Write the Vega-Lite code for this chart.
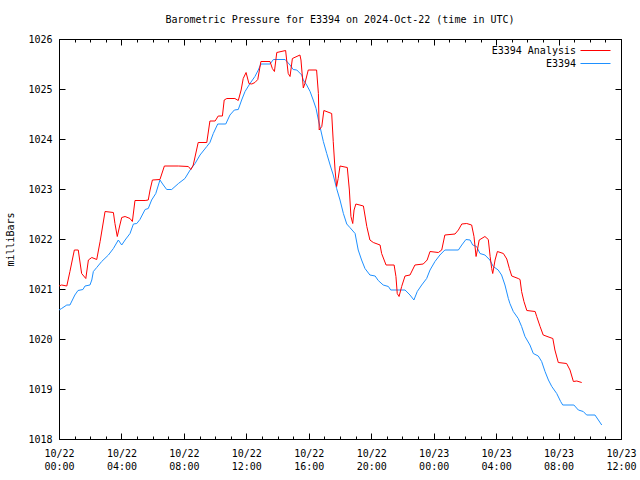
{
  "$schema": "https://vega.github.io/schema/vega-lite/v6.json",
  "width": 562,
  "height": 400,
  "autosize": "none",
  "padding": {"left": 59, "top": 39, "right": 19, "bottom": 41},
  "background": "white",
  "config": {
    "font": "DejaVu Sans Mono",
    "view": {"stroke": "black", "strokeWidth": 1},
    "axis": {"grid": false, "domain": false, "labelFont": "DejaVu Sans Mono", "labelFontSize": 10, "labelColor": "black", "tickColor": "black", "titleFont": "DejaVu Sans Mono", "titleFontSize": 10, "titleFontWeight": "normal", "titleColor": "black"},
    "legend": {"labelFont": "DejaVu Sans Mono", "labelFontSize": 10, "labelColor": "black"},
    "title": {"font": "DejaVu Sans Mono", "fontSize": 10, "fontWeight": "normal", "color": "black"}
  },
  "title": {"text": "Barometric Pressure for E3394 on 2024-Oct-22 (time in UTC)", "anchor": "middle", "offset": 9},
  "data": {"values": [
    {"t":"2024-10-22T00:00:00","p":1020.58,"s":"E3394"},
    {"t":"2024-10-22T00:10:00","p":1020.61,"s":"E3394"},
    {"t":"2024-10-22T00:30:00","p":1020.68,"s":"E3394"},
    {"t":"2024-10-22T00:42:00","p":1020.68,"s":"E3394"},
    {"t":"2024-10-22T01:01:00","p":1020.88,"s":"E3394"},
    {"t":"2024-10-22T01:13:00","p":1020.97,"s":"E3394"},
    {"t":"2024-10-22T01:32:00","p":1020.99,"s":"E3394"},
    {"t":"2024-10-22T01:40:00","p":1021.06,"s":"E3394"},
    {"t":"2024-10-22T01:59:00","p":1021.08,"s":"E3394"},
    {"t":"2024-10-22T02:06:00","p":1021.18,"s":"E3394"},
    {"t":"2024-10-22T02:12:00","p":1021.35,"s":"E3394"},
    {"t":"2024-10-22T02:25:00","p":1021.43,"s":"E3394"},
    {"t":"2024-10-22T02:44:00","p":1021.55,"s":"E3394"},
    {"t":"2024-10-22T03:10:00","p":1021.68,"s":"E3394"},
    {"t":"2024-10-22T03:29:00","p":1021.81,"s":"E3394"},
    {"t":"2024-10-22T03:48:00","p":1021.98,"s":"E3394"},
    {"t":"2024-10-22T04:01:00","p":1021.88,"s":"E3394"},
    {"t":"2024-10-22T04:14:00","p":1021.98,"s":"E3394"},
    {"t":"2024-10-22T04:33:00","p":1022.11,"s":"E3394"},
    {"t":"2024-10-22T04:46:00","p":1022.30,"s":"E3394"},
    {"t":"2024-10-22T04:59:00","p":1022.31,"s":"E3394"},
    {"t":"2024-10-22T05:11:00","p":1022.39,"s":"E3394"},
    {"t":"2024-10-22T05:31:00","p":1022.59,"s":"E3394"},
    {"t":"2024-10-22T05:43:00","p":1022.61,"s":"E3394"},
    {"t":"2024-10-22T05:56:00","p":1022.78,"s":"E3394"},
    {"t":"2024-10-22T06:12:00","p":1022.91,"s":"E3394"},
    {"t":"2024-10-22T06:28:00","p":1023.18,"s":"E3394"},
    {"t":"2024-10-22T06:41:00","p":1023.08,"s":"E3394"},
    {"t":"2024-10-22T06:54:00","p":1022.99,"s":"E3394"},
    {"t":"2024-10-22T07:13:00","p":1022.99,"s":"E3394"},
    {"t":"2024-10-22T07:39:00","p":1023.11,"s":"E3394"},
    {"t":"2024-10-22T08:04:00","p":1023.21,"s":"E3394"},
    {"t":"2024-10-22T08:24:00","p":1023.38,"s":"E3394"},
    {"t":"2024-10-22T08:43:00","p":1023.51,"s":"E3394"},
    {"t":"2024-10-22T09:02:00","p":1023.68,"s":"E3394"},
    {"t":"2024-10-22T09:28:00","p":1023.85,"s":"E3394"},
    {"t":"2024-10-22T09:40:00","p":1023.93,"s":"E3394"},
    {"t":"2024-10-22T09:53:00","p":1024.11,"s":"E3394"},
    {"t":"2024-10-22T10:10:00","p":1024.30,"s":"E3394"},
    {"t":"2024-10-22T10:41:00","p":1024.30,"s":"E3394"},
    {"t":"2024-10-22T10:57:00","p":1024.48,"s":"E3394"},
    {"t":"2024-10-22T11:14:00","p":1024.58,"s":"E3394"},
    {"t":"2024-10-22T11:29:00","p":1024.59,"s":"E3394"},
    {"t":"2024-10-22T11:42:00","p":1024.78,"s":"E3394"},
    {"t":"2024-10-22T11:55:00","p":1024.95,"s":"E3394"},
    {"t":"2024-10-22T12:14:00","p":1025.11,"s":"E3394"},
    {"t":"2024-10-22T12:33:00","p":1025.25,"s":"E3394"},
    {"t":"2024-10-22T12:46:00","p":1025.38,"s":"E3394"},
    {"t":"2024-10-22T12:56:00","p":1025.50,"s":"E3394"},
    {"t":"2024-10-22T13:31:00","p":1025.50,"s":"E3394"},
    {"t":"2024-10-22T13:44:00","p":1025.59,"s":"E3394"},
    {"t":"2024-10-22T14:29:00","p":1025.59,"s":"E3394"},
    {"t":"2024-10-22T14:48:00","p":1025.48,"s":"E3394"},
    {"t":"2024-10-22T15:00:00","p":1025.39,"s":"E3394"},
    {"t":"2024-10-22T15:14:00","p":1025.38,"s":"E3394"},
    {"t":"2024-10-22T15:33:00","p":1025.28,"s":"E3394"},
    {"t":"2024-10-22T15:39:00","p":1025.18,"s":"E3394"},
    {"t":"2024-10-22T15:52:00","p":1025.08,"s":"E3394"},
    {"t":"2024-10-22T16:05:00","p":1024.95,"s":"E3394"},
    {"t":"2024-10-22T16:17:00","p":1024.78,"s":"E3394"},
    {"t":"2024-10-22T16:28:00","p":1024.61,"s":"E3394"},
    {"t":"2024-10-22T16:37:00","p":1024.38,"s":"E3394"},
    {"t":"2024-10-22T16:46:00","p":1024.18,"s":"E3394"},
    {"t":"2024-10-22T16:56:00","p":1023.95,"s":"E3394"},
    {"t":"2024-10-22T17:09:00","p":1023.71,"s":"E3394"},
    {"t":"2024-10-22T17:22:00","p":1023.48,"s":"E3394"},
    {"t":"2024-10-22T17:34:00","p":1023.28,"s":"E3394"},
    {"t":"2024-10-22T17:47:00","p":1023.01,"s":"E3394"},
    {"t":"2024-10-22T18:00:00","p":1022.78,"s":"E3394"},
    {"t":"2024-10-22T18:13:00","p":1022.51,"s":"E3394"},
    {"t":"2024-10-22T18:26:00","p":1022.30,"s":"E3394"},
    {"t":"2024-10-22T18:38:00","p":1022.23,"s":"E3394"},
    {"t":"2024-10-22T18:58:00","p":1022.11,"s":"E3394"},
    {"t":"2024-10-22T19:10:00","p":1021.78,"s":"E3394"},
    {"t":"2024-10-22T19:23:00","p":1021.58,"s":"E3394"},
    {"t":"2024-10-22T19:36:00","p":1021.41,"s":"E3394"},
    {"t":"2024-10-22T19:55:00","p":1021.28,"s":"E3394"},
    {"t":"2024-10-22T20:15:00","p":1021.26,"s":"E3394"},
    {"t":"2024-10-22T20:27:00","p":1021.17,"s":"E3394"},
    {"t":"2024-10-22T20:46:00","p":1021.08,"s":"E3394"},
    {"t":"2024-10-22T21:06:00","p":1021.05,"s":"E3394"},
    {"t":"2024-10-22T21:15:00","p":1020.98,"s":"E3394"},
    {"t":"2024-10-22T22:10:00","p":1020.98,"s":"E3394"},
    {"t":"2024-10-22T22:29:00","p":1020.88,"s":"E3394"},
    {"t":"2024-10-22T22:44:00","p":1020.78,"s":"E3394"},
    {"t":"2024-10-22T22:57:00","p":1020.95,"s":"E3394"},
    {"t":"2024-10-22T23:14:00","p":1021.08,"s":"E3394"},
    {"t":"2024-10-22T23:33:00","p":1021.21,"s":"E3394"},
    {"t":"2024-10-22T23:46:00","p":1021.38,"s":"E3394"},
    {"t":"2024-10-23T00:05:00","p":1021.55,"s":"E3394"},
    {"t":"2024-10-23T00:24:00","p":1021.68,"s":"E3394"},
    {"t":"2024-10-23T00:43:00","p":1021.78,"s":"E3394"},
    {"t":"2024-10-23T01:35:00","p":1021.78,"s":"E3394"},
    {"t":"2024-10-23T01:48:00","p":1021.88,"s":"E3394"},
    {"t":"2024-10-23T02:04:00","p":1021.99,"s":"E3394"},
    {"t":"2024-10-23T02:20:00","p":1021.98,"s":"E3394"},
    {"t":"2024-10-23T02:30:00","p":1021.88,"s":"E3394"},
    {"t":"2024-10-23T02:45:00","p":1021.85,"s":"E3394"},
    {"t":"2024-10-23T02:58:00","p":1021.71,"s":"E3394"},
    {"t":"2024-10-23T03:17:00","p":1021.68,"s":"E3394"},
    {"t":"2024-10-23T03:36:00","p":1021.58,"s":"E3394"},
    {"t":"2024-10-23T03:49:00","p":1021.45,"s":"E3394"},
    {"t":"2024-10-23T04:08:00","p":1021.38,"s":"E3394"},
    {"t":"2024-10-23T04:21:00","p":1021.28,"s":"E3394"},
    {"t":"2024-10-23T04:34:00","p":1021.08,"s":"E3394"},
    {"t":"2024-10-23T04:47:00","p":1020.81,"s":"E3394"},
    {"t":"2024-10-23T04:53:00","p":1020.71,"s":"E3394"},
    {"t":"2024-10-23T05:06:00","p":1020.55,"s":"E3394"},
    {"t":"2024-10-23T05:25:00","p":1020.41,"s":"E3394"},
    {"t":"2024-10-23T05:38:00","p":1020.25,"s":"E3394"},
    {"t":"2024-10-23T05:51:00","p":1020.05,"s":"E3394"},
    {"t":"2024-10-23T06:10:00","p":1019.88,"s":"E3394"},
    {"t":"2024-10-23T06:23:00","p":1019.71,"s":"E3394"},
    {"t":"2024-10-23T06:42:00","p":1019.66,"s":"E3394"},
    {"t":"2024-10-23T06:55:00","p":1019.55,"s":"E3394"},
    {"t":"2024-10-23T07:08:00","p":1019.35,"s":"E3394"},
    {"t":"2024-10-23T07:21:00","p":1019.18,"s":"E3394"},
    {"t":"2024-10-23T07:34:00","p":1019.05,"s":"E3394"},
    {"t":"2024-10-23T07:53:00","p":1018.91,"s":"E3394"},
    {"t":"2024-10-23T08:08:00","p":1018.75,"s":"E3394"},
    {"t":"2024-10-23T08:16:00","p":1018.68,"s":"E3394"},
    {"t":"2024-10-23T08:59:00","p":1018.68,"s":"E3394"},
    {"t":"2024-10-23T09:16:00","p":1018.58,"s":"E3394"},
    {"t":"2024-10-23T09:35:00","p":1018.55,"s":"E3394"},
    {"t":"2024-10-23T09:48:00","p":1018.48,"s":"E3394"},
    {"t":"2024-10-23T10:20:00","p":1018.48,"s":"E3394"},
    {"t":"2024-10-23T10:33:00","p":1018.38,"s":"E3394"},
    {"t":"2024-10-23T10:46:00","p":1018.28,"s":"E3394"},
    {"t":"2024-10-22T00:00:00","p":1021.06,"s":"E3394 Analysis"},
    {"t":"2024-10-22T00:10:00","p":1021.08,"s":"E3394 Analysis"},
    {"t":"2024-10-22T00:30:00","p":1021.06,"s":"E3394 Analysis"},
    {"t":"2024-10-22T00:42:00","p":1021.35,"s":"E3394 Analysis"},
    {"t":"2024-10-22T00:59:00","p":1021.78,"s":"E3394 Analysis"},
    {"t":"2024-10-22T01:14:00","p":1021.78,"s":"E3394 Analysis"},
    {"t":"2024-10-22T01:27:00","p":1021.31,"s":"E3394 Analysis"},
    {"t":"2024-10-22T01:43:00","p":1021.21,"s":"E3394 Analysis"},
    {"t":"2024-10-22T01:53:00","p":1021.58,"s":"E3394 Analysis"},
    {"t":"2024-10-22T02:06:00","p":1021.63,"s":"E3394 Analysis"},
    {"t":"2024-10-22T02:25:00","p":1021.59,"s":"E3394 Analysis"},
    {"t":"2024-10-22T02:38:00","p":1021.95,"s":"E3394 Analysis"},
    {"t":"2024-10-22T02:57:00","p":1022.55,"s":"E3394 Analysis"},
    {"t":"2024-10-22T03:29:00","p":1022.53,"s":"E3394 Analysis"},
    {"t":"2024-10-22T03:35:00","p":1022.31,"s":"E3394 Analysis"},
    {"t":"2024-10-22T03:44:00","p":1022.05,"s":"E3394 Analysis"},
    {"t":"2024-10-22T03:54:00","p":1022.28,"s":"E3394 Analysis"},
    {"t":"2024-10-22T04:01:00","p":1022.43,"s":"E3394 Analysis"},
    {"t":"2024-10-22T04:14:00","p":1022.45,"s":"E3394 Analysis"},
    {"t":"2024-10-22T04:33:00","p":1022.41,"s":"E3394 Analysis"},
    {"t":"2024-10-22T04:42:00","p":1022.35,"s":"E3394 Analysis"},
    {"t":"2024-10-22T04:52:00","p":1022.77,"s":"E3394 Analysis"},
    {"t":"2024-10-22T05:31:00","p":1022.77,"s":"E3394 Analysis"},
    {"t":"2024-10-22T05:43:00","p":1022.78,"s":"E3394 Analysis"},
    {"t":"2024-10-22T05:50:00","p":1022.98,"s":"E3394 Analysis"},
    {"t":"2024-10-22T05:59:00","p":1023.18,"s":"E3394 Analysis"},
    {"t":"2024-10-22T06:28:00","p":1023.19,"s":"E3394 Analysis"},
    {"t":"2024-10-22T06:45:00","p":1023.46,"s":"E3394 Analysis"},
    {"t":"2024-10-22T07:39:00","p":1023.46,"s":"E3394 Analysis"},
    {"t":"2024-10-22T08:17:00","p":1023.45,"s":"E3394 Analysis"},
    {"t":"2024-10-22T08:27:00","p":1023.39,"s":"E3394 Analysis"},
    {"t":"2024-10-22T08:36:00","p":1023.48,"s":"E3394 Analysis"},
    {"t":"2024-10-22T08:55:00","p":1023.93,"s":"E3394 Analysis"},
    {"t":"2024-10-22T09:28:00","p":1023.93,"s":"E3394 Analysis"},
    {"t":"2024-10-22T09:40:00","p":1024.36,"s":"E3394 Analysis"},
    {"t":"2024-10-22T10:00:00","p":1024.36,"s":"E3394 Analysis"},
    {"t":"2024-10-22T10:12:00","p":1024.46,"s":"E3394 Analysis"},
    {"t":"2024-10-22T10:28:00","p":1024.46,"s":"E3394 Analysis"},
    {"t":"2024-10-22T10:35:00","p":1024.78,"s":"E3394 Analysis"},
    {"t":"2024-10-22T10:45:00","p":1024.81,"s":"E3394 Analysis"},
    {"t":"2024-10-22T11:16:00","p":1024.81,"s":"E3394 Analysis"},
    {"t":"2024-10-22T11:29:00","p":1024.77,"s":"E3394 Analysis"},
    {"t":"2024-10-22T11:40:00","p":1024.98,"s":"E3394 Analysis"},
    {"t":"2024-10-22T11:48:00","p":1025.21,"s":"E3394 Analysis"},
    {"t":"2024-10-22T11:59:00","p":1025.33,"s":"E3394 Analysis"},
    {"t":"2024-10-22T12:10:00","p":1025.11,"s":"E3394 Analysis"},
    {"t":"2024-10-22T12:21:00","p":1025.10,"s":"E3394 Analysis"},
    {"t":"2024-10-22T12:33:00","p":1025.13,"s":"E3394 Analysis"},
    {"t":"2024-10-22T12:44:00","p":1025.19,"s":"E3394 Analysis"},
    {"t":"2024-10-22T12:56:00","p":1025.55,"s":"E3394 Analysis"},
    {"t":"2024-10-22T13:31:00","p":1025.55,"s":"E3394 Analysis"},
    {"t":"2024-10-22T13:40:00","p":1025.41,"s":"E3394 Analysis"},
    {"t":"2024-10-22T13:48:00","p":1025.35,"s":"E3394 Analysis"},
    {"t":"2024-10-22T13:57:00","p":1025.73,"s":"E3394 Analysis"},
    {"t":"2024-10-22T14:31:00","p":1025.77,"s":"E3394 Analysis"},
    {"t":"2024-10-22T14:35:00","p":1025.58,"s":"E3394 Analysis"},
    {"t":"2024-10-22T14:41:00","p":1025.31,"s":"E3394 Analysis"},
    {"t":"2024-10-22T14:48:00","p":1025.25,"s":"E3394 Analysis"},
    {"t":"2024-10-22T14:57:00","p":1025.61,"s":"E3394 Analysis"},
    {"t":"2024-10-22T15:26:00","p":1025.68,"s":"E3394 Analysis"},
    {"t":"2024-10-22T15:30:00","p":1025.58,"s":"E3394 Analysis"},
    {"t":"2024-10-22T15:39:00","p":1025.02,"s":"E3394 Analysis"},
    {"t":"2024-10-22T15:45:00","p":1025.11,"s":"E3394 Analysis"},
    {"t":"2024-10-22T15:58:00","p":1025.38,"s":"E3394 Analysis"},
    {"t":"2024-10-22T16:30:00","p":1025.38,"s":"E3394 Analysis"},
    {"t":"2024-10-22T16:37:00","p":1024.91,"s":"E3394 Analysis"},
    {"t":"2024-10-22T16:40:00","p":1024.18,"s":"E3394 Analysis"},
    {"t":"2024-10-22T16:50:00","p":1024.25,"s":"E3394 Analysis"},
    {"t":"2024-10-22T16:58:00","p":1024.57,"s":"E3394 Analysis"},
    {"t":"2024-10-22T17:28:00","p":1024.51,"s":"E3394 Analysis"},
    {"t":"2024-10-22T17:34:00","p":1023.95,"s":"E3394 Analysis"},
    {"t":"2024-10-22T17:41:00","p":1023.38,"s":"E3394 Analysis"},
    {"t":"2024-10-22T17:47:00","p":1023.05,"s":"E3394 Analysis"},
    {"t":"2024-10-22T17:53:00","p":1023.21,"s":"E3394 Analysis"},
    {"t":"2024-10-22T18:00:00","p":1023.46,"s":"E3394 Analysis"},
    {"t":"2024-10-22T18:28:00","p":1023.43,"s":"E3394 Analysis"},
    {"t":"2024-10-22T18:36:00","p":1022.98,"s":"E3394 Analysis"},
    {"t":"2024-10-22T18:42:00","p":1022.45,"s":"E3394 Analysis"},
    {"t":"2024-10-22T18:49:00","p":1022.31,"s":"E3394 Analysis"},
    {"t":"2024-10-22T18:54:00","p":1022.58,"s":"E3394 Analysis"},
    {"t":"2024-10-22T19:01:00","p":1022.70,"s":"E3394 Analysis"},
    {"t":"2024-10-22T19:30:00","p":1022.66,"s":"E3394 Analysis"},
    {"t":"2024-10-22T19:43:00","p":1022.25,"s":"E3394 Analysis"},
    {"t":"2024-10-22T19:55:00","p":1021.98,"s":"E3394 Analysis"},
    {"t":"2024-10-22T20:08:00","p":1021.93,"s":"E3394 Analysis"},
    {"t":"2024-10-22T20:34:00","p":1021.88,"s":"E3394 Analysis"},
    {"t":"2024-10-22T20:40:00","p":1021.71,"s":"E3394 Analysis"},
    {"t":"2024-10-22T20:57:00","p":1021.48,"s":"E3394 Analysis"},
    {"t":"2024-10-22T21:28:00","p":1021.48,"s":"E3394 Analysis"},
    {"t":"2024-10-22T21:35:00","p":1021.25,"s":"E3394 Analysis"},
    {"t":"2024-10-22T21:40:00","p":1020.91,"s":"E3394 Analysis"},
    {"t":"2024-10-22T21:47:00","p":1020.85,"s":"E3394 Analysis"},
    {"t":"2024-10-22T21:57:00","p":1021.05,"s":"E3394 Analysis"},
    {"t":"2024-10-22T22:10:00","p":1021.26,"s":"E3394 Analysis"},
    {"t":"2024-10-22T22:29:00","p":1021.28,"s":"E3394 Analysis"},
    {"t":"2024-10-22T22:48:00","p":1021.48,"s":"E3394 Analysis"},
    {"t":"2024-10-22T23:20:00","p":1021.50,"s":"E3394 Analysis"},
    {"t":"2024-10-22T23:35:00","p":1021.58,"s":"E3394 Analysis"},
    {"t":"2024-10-22T23:46:00","p":1021.75,"s":"E3394 Analysis"},
    {"t":"2024-10-23T00:18:00","p":1021.73,"s":"E3394 Analysis"},
    {"t":"2024-10-23T00:31:00","p":1021.78,"s":"E3394 Analysis"},
    {"t":"2024-10-23T00:43:00","p":1022.08,"s":"E3394 Analysis"},
    {"t":"2024-10-23T01:22:00","p":1022.10,"s":"E3394 Analysis"},
    {"t":"2024-10-23T01:35:00","p":1022.18,"s":"E3394 Analysis"},
    {"t":"2024-10-23T01:48:00","p":1022.30,"s":"E3394 Analysis"},
    {"t":"2024-10-23T02:07:00","p":1022.31,"s":"E3394 Analysis"},
    {"t":"2024-10-23T02:26:00","p":1022.28,"s":"E3394 Analysis"},
    {"t":"2024-10-23T02:35:00","p":1022.05,"s":"E3394 Analysis"},
    {"t":"2024-10-23T02:43:00","p":1021.65,"s":"E3394 Analysis"},
    {"t":"2024-10-23T02:48:00","p":1021.78,"s":"E3394 Analysis"},
    {"t":"2024-10-23T02:55:00","p":1021.98,"s":"E3394 Analysis"},
    {"t":"2024-10-23T03:17:00","p":1022.05,"s":"E3394 Analysis"},
    {"t":"2024-10-23T03:30:00","p":1021.99,"s":"E3394 Analysis"},
    {"t":"2024-10-23T03:37:00","p":1021.65,"s":"E3394 Analysis"},
    {"t":"2024-10-23T03:43:00","p":1021.41,"s":"E3394 Analysis"},
    {"t":"2024-10-23T03:47:00","p":1021.31,"s":"E3394 Analysis"},
    {"t":"2024-10-23T03:56:00","p":1021.58,"s":"E3394 Analysis"},
    {"t":"2024-10-23T04:05:00","p":1021.75,"s":"E3394 Analysis"},
    {"t":"2024-10-23T04:28:00","p":1021.71,"s":"E3394 Analysis"},
    {"t":"2024-10-23T04:41:00","p":1021.60,"s":"E3394 Analysis"},
    {"t":"2024-10-23T04:51:00","p":1021.41,"s":"E3394 Analysis"},
    {"t":"2024-10-23T05:00:00","p":1021.26,"s":"E3394 Analysis"},
    {"t":"2024-10-23T05:25:00","p":1021.21,"s":"E3394 Analysis"},
    {"t":"2024-10-23T05:32:00","p":1021.19,"s":"E3394 Analysis"},
    {"t":"2024-10-23T05:38:00","p":1020.95,"s":"E3394 Analysis"},
    {"t":"2024-10-23T05:47:00","p":1020.75,"s":"E3394 Analysis"},
    {"t":"2024-10-23T05:58:00","p":1020.57,"s":"E3394 Analysis"},
    {"t":"2024-10-23T06:30:00","p":1020.55,"s":"E3394 Analysis"},
    {"t":"2024-10-23T06:36:00","p":1020.45,"s":"E3394 Analysis"},
    {"t":"2024-10-23T06:49:00","p":1020.25,"s":"E3394 Analysis"},
    {"t":"2024-10-23T07:01:00","p":1020.08,"s":"E3394 Analysis"},
    {"t":"2024-10-23T07:27:00","p":1020.03,"s":"E3394 Analysis"},
    {"t":"2024-10-23T07:38:00","p":1020.01,"s":"E3394 Analysis"},
    {"t":"2024-10-23T07:46:00","p":1019.78,"s":"E3394 Analysis"},
    {"t":"2024-10-23T07:59:00","p":1019.53,"s":"E3394 Analysis"},
    {"t":"2024-10-23T08:31:00","p":1019.51,"s":"E3394 Analysis"},
    {"t":"2024-10-23T08:44:00","p":1019.38,"s":"E3394 Analysis"},
    {"t":"2024-10-23T08:57:00","p":1019.15,"s":"E3394 Analysis"},
    {"t":"2024-10-23T09:10:00","p":1019.16,"s":"E3394 Analysis"},
    {"t":"2024-10-23T09:29:00","p":1019.13,"s":"E3394 Analysis"}
  ]},
  "layer": [
    {
      "mark": {"type": "line", "strokeWidth": 1, "interpolate": "linear"},
      "encoding": {
        "x": {"field": "t", "type": "temporal",
          "scale": {"domain": [{"year": 2024, "month": 10, "date": 22, "hours": 0}, {"year": 2024, "month": 10, "date": 23, "hours": 12}], "nice": false},
          "axis": {"orient": "bottom", "title": null, "tickSize": -6,
            "values": [
              {"year": 2024, "month": 10, "date": 22, "hours": 0},
              {"year": 2024, "month": 10, "date": 22, "hours": 4},
              {"year": 2024, "month": 10, "date": 22, "hours": 8},
              {"year": 2024, "month": 10, "date": 22, "hours": 12},
              {"year": 2024, "month": 10, "date": 22, "hours": 16},
              {"year": 2024, "month": 10, "date": 22, "hours": 20},
              {"year": 2024, "month": 10, "date": 23, "hours": 0},
              {"year": 2024, "month": 10, "date": 23, "hours": 4},
              {"year": 2024, "month": 10, "date": 23, "hours": 8},
              {"year": 2024, "month": 10, "date": 23, "hours": 12}],
            "labelExpr": "[timeFormat(datum.value, '%m/%d'), timeFormat(datum.value, '%H:%M')]",
            "labelOverlap": false, "labelFlush": false, "labelPadding": 15, "labelLineHeight": 13, "labelBaseline": "top"}},
        "y": {"field": "p", "type": "quantitative",
          "scale": {"domain": [1018, 1026], "nice": false, "zero": false},
          "axis": {"orient": "left", "title": "milliBars", "values": [1018, 1019, 1020, 1021, 1022, 1023, 1024, 1025, 1026], "format": "d", "tickSize": -6, "labelPadding": 13, "titleX": -49, "titleY": 200, "titleAngle": -90, "titleAlign": "center", "titleBaseline": "middle"}},
        "color": {"field": "s", "type": "nominal",
          "scale": {"domain": ["E3394 Analysis", "E3394"], "range": ["#ff0000", "#1e90ff"]},
          "legend": {"title": null, "orient": "none", "legendX": 531, "legendY": 6, "padding": 0, "symbolType": "M-3,0H3", "symbolSize": 100, "symbolStrokeWidth": 1, "labelAlign": "right", "labelOffset": -25, "rowPadding": 2}}
      }
    },
    {
      "mark": {"type": "line", "opacity": 0},
      "encoding": {
        "x": {"field": "t", "type": "temporal",
          "axis": {"orient": "top", "title": null, "labels": false, "tickCount": 36, "tickSize": -3}},
        "y": {"field": "p", "type": "quantitative",
          "axis": {"orient": "right", "title": null, "labels": false, "values": [1018, 1019, 1020, 1021, 1022, 1023, 1024, 1025, 1026], "tickSize": -6}},
        "detail": {"field": "s"}
      }
    },
    {
      "mark": {"type": "line", "opacity": 0},
      "encoding": {
        "x": {"field": "t", "type": "temporal",
          "axis": {"orient": "bottom", "title": null, "labels": false, "tickCount": 36, "tickSize": -3}},
        "y": {"field": "p", "type": "quantitative", "axis": null},
        "detail": {"field": "s"}
      }
    },
    {
      "mark": {"type": "line", "opacity": 0},
      "encoding": {
        "x": {"field": "t", "type": "temporal",
          "axis": {"orient": "top", "title": null, "labels": false, "tickSize": -6,
            "values": [
              {"year": 2024, "month": 10, "date": 22, "hours": 0},
              {"year": 2024, "month": 10, "date": 22, "hours": 4},
              {"year": 2024, "month": 10, "date": 22, "hours": 8},
              {"year": 2024, "month": 10, "date": 22, "hours": 12},
              {"year": 2024, "month": 10, "date": 22, "hours": 16},
              {"year": 2024, "month": 10, "date": 22, "hours": 20},
              {"year": 2024, "month": 10, "date": 23, "hours": 0},
              {"year": 2024, "month": 10, "date": 23, "hours": 4},
              {"year": 2024, "month": 10, "date": 23, "hours": 8},
              {"year": 2024, "month": 10, "date": 23, "hours": 12}]}},
        "y": {"field": "p", "type": "quantitative", "axis": null},
        "detail": {"field": "s"}
      }
    }
  ],
  "resolve": {"axis": {"x": "independent", "y": "independent"}}
}
